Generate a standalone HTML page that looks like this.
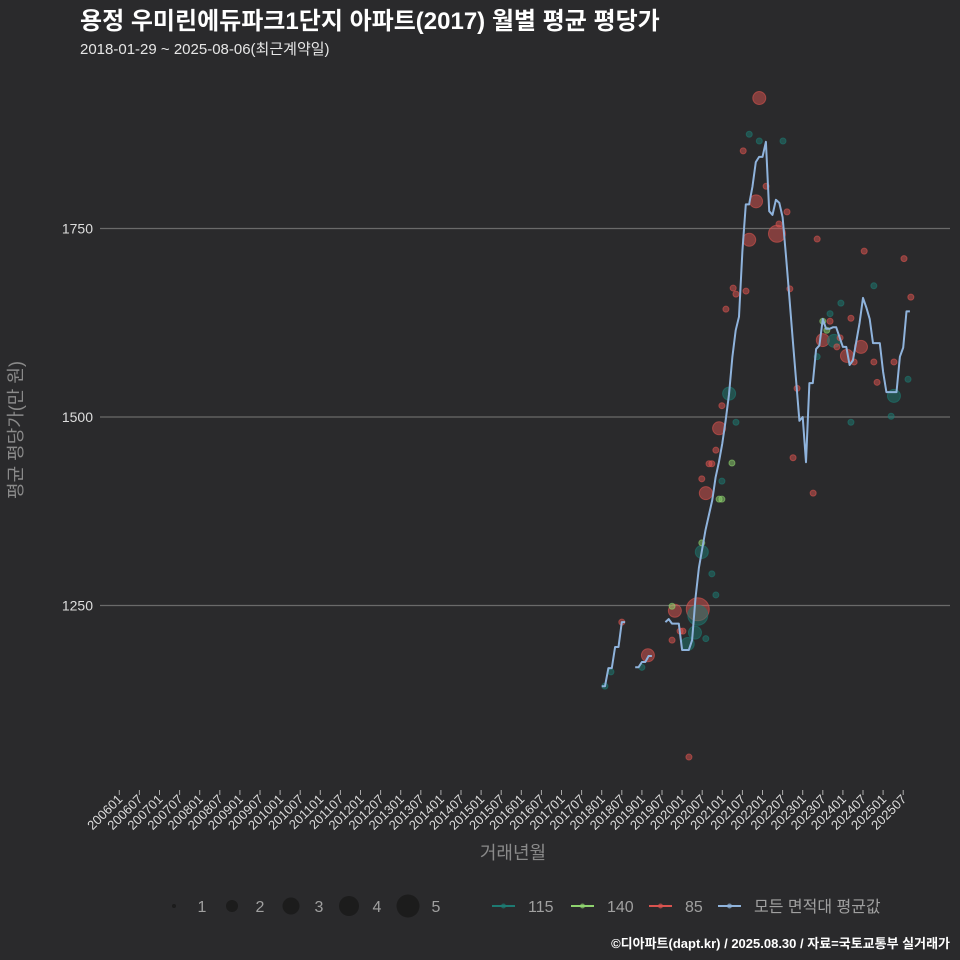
<!DOCTYPE html>
<html><head><meta charset="utf-8">
<style>
html,body{margin:0;padding:0;background:#2a2a2c;}
svg{display:block;font-family:"Liberation Sans","Noto Sans CJK KR",sans-serif;}
</style></head>
<body>
<svg id="chart" width="960" height="960" viewBox="0 0 960 960">
<rect x="0" y="0" width="960" height="960" fill="#2a2a2c"/>
<text x="80" y="29" fill="#ffffff" font-size="24" font-weight="bold">용정 우미린에듀파크1단지 아파트(2017) 월별 평균 평당가</text>
<text x="80" y="54" fill="#e6e6e6" font-size="15">2018-01-29 ~ 2025-08-06(최근계약일)</text>
<g id="grid"></g>
<g id="yticks"></g>
<g id="xticks"></g>
<g id="points"></g>
<g id="lines"></g>
<text transform="translate(22,430) rotate(-90)" text-anchor="middle" fill="#8a8a8a" font-size="18">평균 평당가(만 원)</text>
<text x="513" y="859" text-anchor="middle" fill="#8a8a8a" font-size="18">거래년월</text>
<g id="legend"></g>
<text x="950" y="948" text-anchor="end" fill="#ffffff" font-size="13" font-weight="bold">©디아파트(dapt.kr) / 2025.08.30 / 자료=국토교통부 실거래가</text>
</svg>
<script>
// ---- data ----
const yTicks = [1250, 1500, 1750];
const xTickLabels = [];
for (let y = 2006; y <= 2025; y++) { xTickLabels.push(y + "01"); xTickLabels.push(y + "07"); }
const seg1Start = "201801";
const seg1Values = [1143,1143,1167,1167,1195,1195,1228,1228];
const seg2Start = "201811";
const seg2Values = [1168,1168,1175,1175,1183,1183];
const seg3Start = "201908";
const seg3Values = [1228,1232,1226,1226,1226,1191,1191,1191,1204,1260,1300,1325,1350,1370,1390,1420,1440,1465,1495,1530,1580,1615,1633,1720,1782,1782,1805,1838,1845,1845,1865,1773,1768,1788,1784,1765,1715,1660,1605,1550,1495,1500,1440,1545,1545,1590,1595,1630,1617,1617,1619,1619,1606,1593,1593,1569,1575,1600,1625,1658,1645,1630,1598,1598,1598,1560,1533,1533,1533,1533,1580,1592,1640,1640];
const ptTime = [2018.50,2018.23,2018.08,2019.15,2019.00,2019.82,2019.75,2020.39,2020.39,2020.32,2020.14,2019.95,2020.02,2019.75,2020.59,2020.84,2020.74,2020.49,2020.49,2020.59,2020.49,2020.67,2020.74,2020.84,2020.92,2020.99,2020.92,2020.99,2021.24,2021.34,2020.99,2020.17,2022.76,2023.26,2024.20,2025.20,2021.92,2021.67,2021.92,2022.51,2021.52,2022.09,2021.84,2022.61,2022.41,2021.67,2022.36,2023.36,2024.53,2025.52,2021.27,2021.34,2021.59,2022.68,2021.09,2024.77,2025.69,2023.95,2023.68,2023.50,2023.68,2024.20,2023.60,2023.50,2023.78,2023.93,2023.36,2023.85,2024.10,2024.45,2024.28,2024.77,2025.27,2024.85,2025.62,2025.27,2022.86,2021.17];
const ptValue = [1228,1162,1143,1184,1168,1243,1249,1245,1237,1214,1199,1216,1216,1204,1206,1264,1292,1321,1333,1399,1418,1438,1438,1456,1485,1415,1391,1391,1439,1493,1515,1049,1446,1399,1493,1501,1923,1875,1866,1866,1853,1806,1786,1772,1756,1735,1743,1736,1720,1710,1671,1663,1667,1670,1643,1674,1659,1651,1637,1627,1627,1631,1615,1602,1601,1605,1580,1593,1581,1593,1573,1573,1573,1546,1550,1528,1538,1531];
const ptArea = ["85","115","115","85","115","85","140","85","115","115","115","85","85","85","115","115","115","115","140","85","85","85","85","85","85","115","140","140","140","115","85","85","85","85","115","115","85","115","115","115","85","85","85","85","85","85","85","85","85","85","85","85","85","85","85","115","85","115","115","140","85","85","140","85","115","85","115","85","85","85","85","85","85","85","115","115","85","115"];
const ptCount = [1,1,1,2,1,2,1,5,4,2,2,1,1,1,1,1,1,2,1,2,1,1,1,1,2,1,1,1,1,1,1,1,1,1,1,1,2,1,1,1,1,1,2,1,1,2,3,1,1,1,1,1,1,1,1,1,1,1,1,1,1,1,1,2,2,1,1,1,2,2,1,1,1,1,1,2,1,2];
const legendSizes = [1,2,3,4,5];
const legendAreas = ["115","140","85","모든 면적대 평균값"];

// ---- scales ----
const NS = "http://www.w3.org/2000/svg";
const X0 = 119.3, PXM = 3.35;
function xMonthIdx(m) { return X0 + m * PXM; }
function ymToIdx(s) { return (parseInt(s.slice(0,4)) - 2006) * 12 + parseInt(s.slice(4,6)) - 1; }
function xTime(t) { return X0 + (t - 2006) * 12 * PXM; }
function yScale(v) { return 417 - (v - 1500) * 0.754; }
function rScale(c) { return [0, 3, 6.5, 8.5, 10, 11.5][c]; }
const colors = {"115":"#1d7a72","140":"#8ed36e","85":"#d9534f","모든 면적대 평균값":"#8fb3dc"};
function mk(tag, attrs, parent) {
  const el = document.createElementNS(NS, tag);
  for (const k in attrs) el.setAttribute(k, attrs[k]);
  parent.appendChild(el); return el;
}

const grid = document.getElementById('grid'), yt = document.getElementById('yticks');
yTicks.forEach(v => {
  const l = mk('line', {x1:100, x2:950, y1:yScale(v), y2:yScale(v), stroke:'#6a6a6a', 'stroke-width':1.2}, grid);
  
  
  const t = mk('text', {x:93, y:yScale(v)+5, 'text-anchor':'end', fill:'#dddddd', 'font-size':14}, yt);
  t.textContent = v;
  
  
});

const xt = document.getElementById('xticks');
xTickLabels.forEach((lab) => {
  const x = xMonthIdx(ymToIdx(lab));
  const tk = mk('line', {x1:x, x2:x, y1:790, y2:795, stroke:'#aaaaaa', 'stroke-width':1}, xt);
  
  
  const t = mk('text', {transform:`translate(${x+4},${800}) rotate(-45)`, 'text-anchor':'end', fill:'#dddddd', 'font-size':13}, xt);
  t.textContent = lab;
  
  
});

const pg = document.getElementById('points');
ptTime.forEach((t, i) => {
  const c = colors[ptArea[i]];
  const p = mk('circle', {cx:xTime(t), cy:yScale(ptValue[i]), r:rScale(ptCount[i]), fill:c, 'fill-opacity':0.5, stroke:c, 'stroke-opacity':0.6, 'stroke-width':1}, pg);
  
  
});

const lg = document.getElementById('lines');
[[seg1Start, seg1Values],[seg2Start, seg2Values],[seg3Start, seg3Values]].forEach((s, k) => {
  const s0 = ymToIdx(s[0]);
  const pts = s[1].map((v, j) => xMonthIdx(s0 + j).toFixed(1) + ',' + yScale(v).toFixed(1)).join(' ');
  const pl = mk('polyline', {points:pts, fill:'none', stroke:'#8fb3dc', 'stroke-width':2, 'stroke-linejoin':'round'}, lg);
  
  
});

const leg = document.getElementById('legend');
const sizeX = [174, 232, 291, 349, 408];
legendSizes.forEach((s, i) => {
  const c = mk('circle', {cx:sizeX[i], cy:906, r:[2,6,8.5,10,11.5][i], fill:'#1c1c1c'}, leg);
  
  
  const t = mk('text', {x:sizeX[i]+28, y:912, 'text-anchor':'middle', fill:'#a0a0a0', 'font-size':16}, leg);
  t.textContent = s;
  
  
});
const areaX = [492, 571, 649, 718];
legendAreas.forEach((a, i) => {
  const x = areaX[i], c = colors[a];
  const l = mk('line', {x1:x, x2:x+23, y1:906, y2:906, stroke:c, 'stroke-width':2}, leg);
  
  
  const d = mk('circle', {cx:x+11.5, cy:906, r:2.5, fill:c, 'fill-opacity':0.7}, leg);
  
  
  const t = mk('text', {x:x+36, y:912, fill:'#a0a0a0', 'font-size':16}, leg);
  t.textContent = a;
  
  
});
</script>
</body></html>
